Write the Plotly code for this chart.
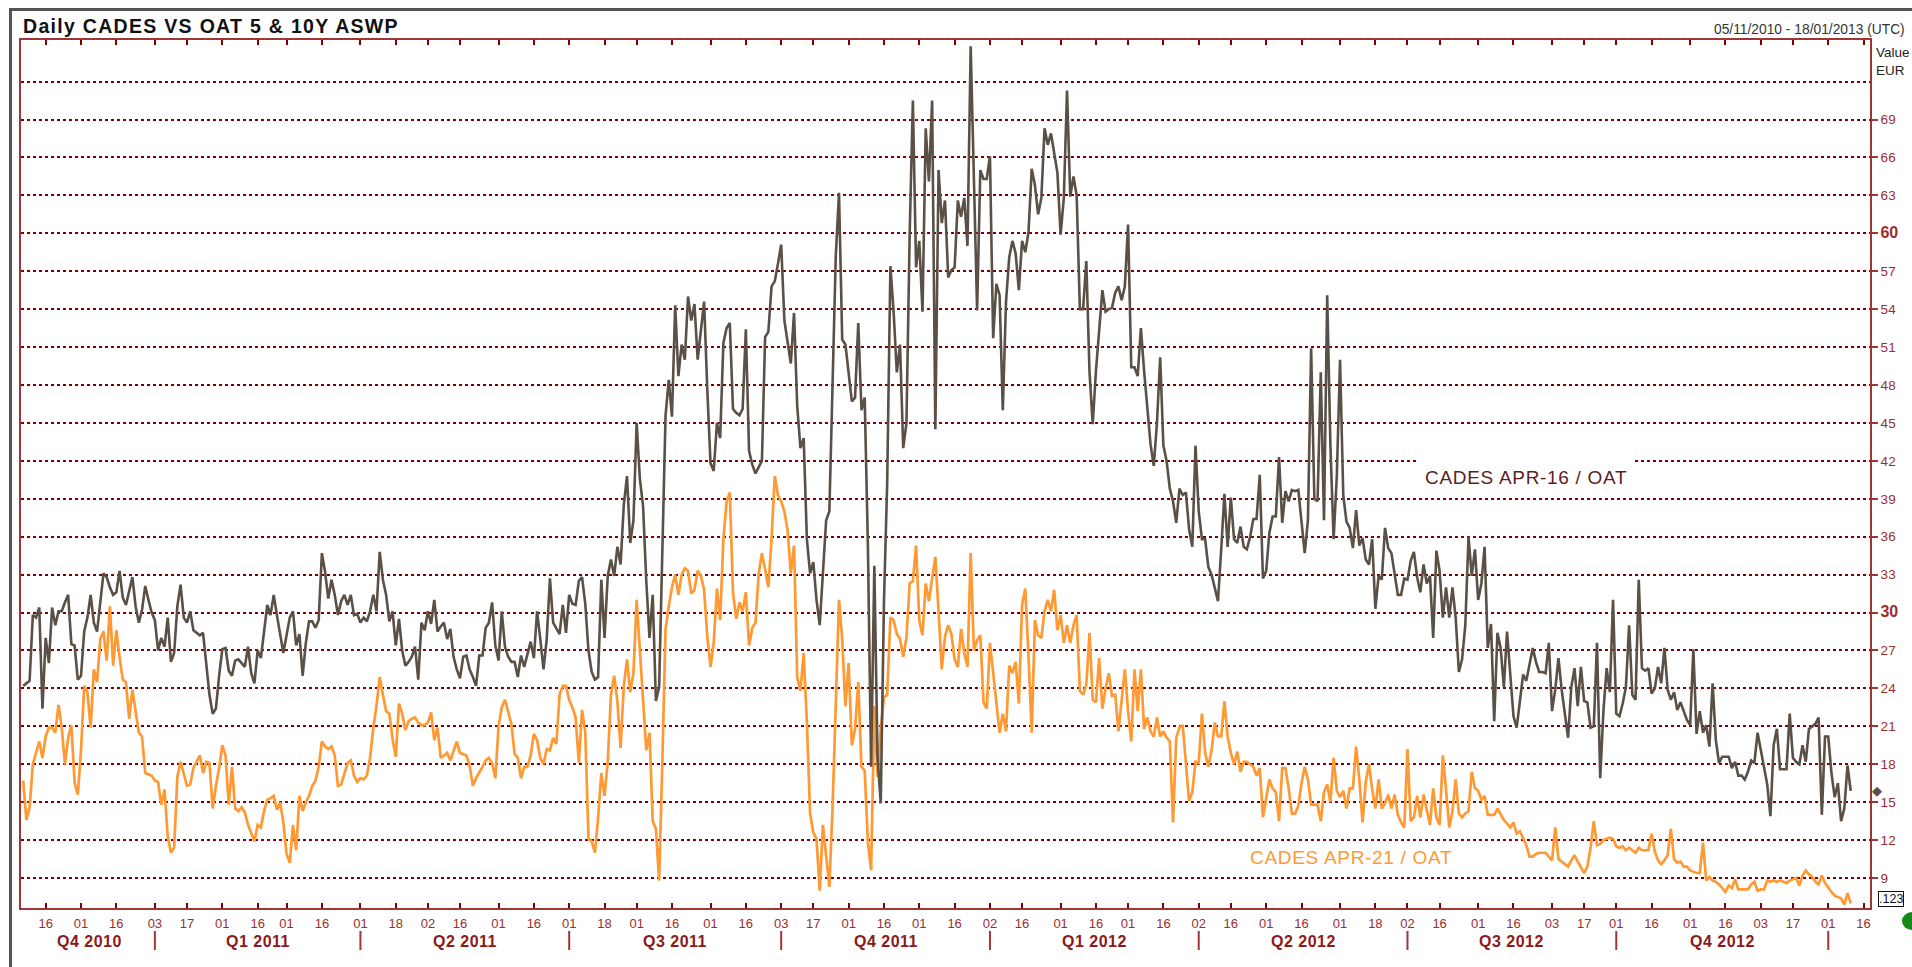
import numpy as np
import pandas as pd
import plotly.graph_objects as go

# ---------------- data ----------------
START_DATE = "2010-11-05"   # first business day shown
TITLE = "Daily CADES VS OAT 5 &amp; 10Y ASWP"
DATE_RANGE_TEXT = "05/11/2010 - 18/01/2013 (UTC)"
SERIES_NAMES = ["CADES APR-16 / OAT", "CADES APR-21 / OAT"]

# daily (business-day) asset-swap spreads, EUR, in bp
cades_apr16 = [
    24.2, 24.4, 24.6, 29.8, 29.6, 30.4, 22.4, 28.0, 26.0, 30.4,
    29.0, 30.1, 30.1, 30.8, 31.4, 27.5, 27.4, 24.7, 25.0, 28.5,
    29.6, 31.4, 29.2, 28.5, 30.7, 33.1, 32.8, 32.0, 31.4, 31.6,
    33.3, 31.2, 30.6, 31.7, 32.8, 30.5, 29.2, 30.2, 32.1, 31.0,
    30.0, 29.4, 27.0, 28.0, 27.3, 29.6, 26.1, 26.8, 30.5, 32.2,
    29.6, 29.2, 30.1, 28.6, 28.4, 28.2, 28.4, 26.0, 23.5, 22.0,
    22.4, 25.0, 27.1, 27.2, 25.4, 25.0, 26.2, 26.3, 26.0, 25.7,
    27.3, 25.2, 24.4, 27.0, 26.4, 28.3, 30.6, 29.8, 31.4, 29.8,
    28.2, 26.8, 28.2, 29.6, 30.1, 27.4, 28.3, 25.0, 27.6, 29.3,
    29.3, 28.8, 29.4, 34.7, 33.2, 31.1, 32.6, 31.4, 29.8, 30.9,
    31.4, 30.6, 31.4, 29.8, 29.9, 29.2, 29.6, 29.3, 30.1, 31.4,
    30.1, 34.8, 32.6, 31.4, 29.3, 30.1, 27.4, 29.5, 27.0, 25.8,
    26.1, 26.5, 27.3, 24.7, 29.2, 28.6, 30.1, 29.1, 31.0, 28.5,
    28.9, 29.2, 27.9, 28.7, 26.5, 25.5, 24.8, 26.5, 26.6, 25.5,
    24.9, 24.2, 26.6, 26.6, 28.8, 29.2, 30.8, 27.4, 26.2, 30.1,
    27.3, 26.5, 26.1, 26.1, 24.9, 26.6, 25.7, 26.6, 27.7, 26.4,
    30.1, 27.9, 25.5, 27.9, 32.7, 29.2, 28.8, 28.3, 30.6, 28.4,
    31.4, 30.7, 30.6, 32.5, 32.8, 30.7, 27.0, 25.3, 24.7, 24.9,
    32.6, 28.0, 32.9, 34.2, 32.9, 35.2, 33.8, 38.5, 40.8, 35.5,
    37.3, 45.0, 40.6, 38.4, 32.5, 28.0, 31.4, 23.0, 24.1, 35.1,
    45.6, 48.4, 45.5, 54.3, 48.7, 51.2, 50.0, 55.0, 53.1, 54.4,
    50.0, 52.3, 54.6, 47.6, 41.8, 41.2, 45.0, 43.8, 51.3, 52.5,
    52.9, 46.1, 45.8, 45.6, 46.1, 52.4, 42.8, 41.7, 41.0, 41.5,
    42.0, 51.8, 52.2, 55.8, 56.2, 57.6, 59.1, 53.1, 51.2, 49.7,
    53.7, 46.3, 43.0, 43.8, 35.8, 33.1, 34.0, 31.0, 29.0, 33.1,
    37.3, 38.0, 48.1, 58.2, 63.2, 51.6, 51.2, 49.0, 46.7, 47.0,
    52.9, 46.0, 47.0, 35.3, 17.8, 33.7, 18.6, 14.9, 30.9, 40.2,
    57.4, 53.8, 49.0, 51.2, 43.0, 45.0, 59.9, 70.5, 57.3, 59.4,
    53.8, 68.3, 64.1, 70.5, 44.5, 65.0, 60.8, 62.6, 56.5, 57.1,
    57.3, 62.6, 61.3, 62.8, 59.0, 74.8, 63.9, 53.9, 65.0, 64.3,
    64.3, 66.1, 51.7, 56.0, 55.1, 46.0, 54.6, 58.1, 59.4, 58.4,
    55.5, 59.4, 58.5, 60.1, 65.1, 63.8, 61.5, 62.8, 68.3, 67.0,
    67.9, 66.5, 64.8, 59.9, 62.8, 71.3, 62.9, 64.5, 63.0, 54.0,
    54.0, 57.8, 49.0, 44.9, 49.1, 52.3, 55.5, 53.8, 54.0, 54.1,
    55.3, 55.8, 54.7, 55.8, 60.7, 49.4, 49.4, 48.7, 52.5, 49.1,
    46.0, 43.3, 41.6, 45.0, 50.2, 43.2, 42.0, 39.8, 38.8, 37.1,
    39.8, 39.3, 39.5, 36.6, 35.2, 43.2, 38.0, 35.8, 35.8, 33.6,
    33.0, 32.0, 30.9, 35.0, 39.4, 35.2, 39.1, 35.8, 35.5, 36.8,
    35.2, 35.0, 36.0, 37.4, 37.4, 40.9, 32.7, 33.3, 36.3, 37.6,
    37.6, 42.3, 37.1, 39.6, 38.8, 39.7, 39.6, 39.7, 37.1, 34.7,
    37.3, 50.9, 39.0, 38.8, 49.0, 37.3, 55.1, 43.2, 35.8, 40.8,
    50.0, 39.3, 37.2, 36.7, 35.1, 38.1, 35.3, 35.9, 34.2, 33.8,
    35.8, 30.3, 32.9, 32.6, 36.7, 35.1, 34.7, 33.0, 31.4, 31.4,
    32.7, 32.6, 34.1, 34.8, 32.8, 31.6, 33.8, 32.3, 32.9, 28.0,
    34.9, 33.3, 29.6, 32.0, 29.6, 32.0, 29.6, 25.3, 26.3, 29.0,
    36.0, 32.9, 35.0, 31.0, 32.3, 35.2, 27.2, 29.1, 21.4, 28.4,
    27.2, 24.1, 28.5, 25.1, 21.8, 20.9, 22.8, 25.1, 24.6, 25.9,
    27.2, 26.1, 25.3, 25.3, 25.2, 27.6, 22.2, 23.9, 26.4, 23.9,
    21.8, 20.1, 24.1, 25.6, 22.6, 25.7, 23.0, 22.9, 20.9, 21.0,
    27.6, 16.9, 22.2, 25.6, 23.7, 31.0, 22.0, 21.8, 22.8, 24.1,
    29.0, 23.5, 23.1, 32.6, 25.6, 25.4, 25.6, 23.6, 24.0, 25.7,
    24.4, 27.2, 23.9, 23.1, 23.7, 22.3, 22.9, 22.2, 21.5, 21.1,
    27.1, 20.4, 22.2, 20.5, 21.1, 19.4, 24.4, 19.9, 18.1, 18.6,
    18.6, 18.6, 17.7, 18.2, 17.1, 17.1, 16.8, 17.4, 18.3, 18.1,
    20.5, 19.1, 17.9, 16.4, 13.9, 19.5, 20.8, 17.6, 17.6, 17.6,
    22.0, 18.5, 18.2, 18.0, 19.5, 18.2, 20.8, 21.0, 21.2, 21.7,
    14.0, 20.2, 20.2, 17.3, 15.4, 16.5, 13.5, 14.5, 17.9, 15.9,
]

cades_apr21 = [
    16.7, 13.6, 14.6, 18.0, 18.9, 19.8, 18.5, 20.2, 20.9, 20.9,
    20.5, 22.7, 20.9, 18.0, 20.1, 21.1, 16.6, 15.6, 19.1, 24.2,
    23.7, 20.9, 25.5, 24.5, 27.9, 28.5, 26.2, 30.5, 25.8, 28.6,
    26.5, 24.7, 24.5, 21.6, 23.9, 22.2, 20.5, 20.2, 17.3, 17.2,
    17.1, 16.7, 16.6, 14.8, 16.0, 12.3, 11.0, 11.4, 17.0, 18.2,
    17.2, 16.3, 16.4, 17.7, 18.2, 18.7, 17.3, 18.2, 18.1, 14.5,
    16.3, 17.7, 19.5, 18.7, 14.8, 17.8, 14.5, 14.3, 14.6, 14.2,
    13.2, 12.5, 11.9, 13.2, 13.0, 14.3, 15.2, 15.3, 15.5, 14.4,
    15.0, 13.4, 10.9, 10.2, 13.2, 11.2, 15.5, 14.3, 15.0, 15.5,
    16.3, 16.7, 17.8, 19.8, 19.4, 19.2, 19.4, 18.7, 16.3, 16.4,
    17.3, 18.1, 18.3, 17.1, 16.6, 16.9, 16.8, 17.1, 18.5, 20.9,
    22.6, 24.9, 23.5, 22.2, 22.0, 20.0, 18.6, 22.8, 22.0, 20.7,
    21.4, 21.6, 21.7, 21.3, 21.1, 21.1, 21.3, 22.1, 19.9, 20.9,
    18.5, 18.7, 18.9, 18.3, 19.0, 19.8, 18.9, 18.8, 18.7, 17.9,
    16.3, 16.9, 17.3, 17.8, 18.3, 18.5, 18.1, 16.9, 21.0, 22.5,
    23.1, 22.2, 21.2, 18.8, 18.5, 16.9, 17.8, 17.8, 18.7, 20.4,
    19.9, 18.5, 18.0, 19.2, 19.1, 20.1, 19.6, 23.5, 24.2, 24.2,
    23.1, 22.5, 21.7, 18.1, 22.3, 20.5, 12.1, 11.9, 11.0, 13.8,
    17.3, 15.5, 18.2, 23.5, 25.0, 23.0, 19.3, 24.2, 26.3, 23.7,
    25.2, 31.0, 27.0, 23.3, 19.1, 20.5, 13.5, 12.9, 8.8, 18.2,
    28.7, 30.5, 32.0, 33.0, 31.4, 33.0, 33.5, 33.3, 31.5, 31.8,
    33.3, 32.9, 31.8, 28.1, 25.7, 27.6, 31.9, 29.4, 35.8, 38.8,
    39.5, 31.6, 29.5, 30.8, 30.1, 31.6, 27.4, 28.8, 29.2, 33.1,
    34.7, 33.4, 32.0, 35.8, 40.8, 39.3, 38.8, 38.0, 36.5, 33.1,
    35.3, 24.9, 23.8, 26.8, 21.3, 14.1, 12.6, 12.1, 8.0, 13.2,
    10.5, 8.3, 14.6, 22.6, 31.0, 27.9, 22.6, 26.0, 19.5, 20.8,
    24.5, 17.8, 17.5, 11.8, 9.6, 22.6, 17.0, 20.8, 23.3, 23.5,
    29.6, 29.4, 28.3, 27.9, 26.5, 28.0, 32.3, 32.5, 35.3, 29.4,
    28.2, 32.3, 30.9, 32.7, 34.4, 30.1, 25.5, 28.1, 29.0, 28.3,
    26.3, 25.7, 28.7, 26.8, 25.7, 34.7, 27.0, 27.8, 28.2, 22.9,
    22.4, 27.6, 25.2, 23.0, 20.5, 22.0, 20.6, 25.8, 25.2, 26.1,
    22.8, 30.6, 31.9, 26.5, 20.5, 29.4, 28.2, 28.0, 30.1, 31.0,
    30.1, 31.8, 28.6, 29.8, 27.6, 29.0, 27.6, 29.0, 29.8, 23.8,
    23.5, 24.3, 28.4, 23.1, 22.9, 26.4, 22.4, 24.0, 25.2, 23.4,
    23.5, 20.6, 23.3, 25.5, 22.2, 19.8, 25.5, 22.2, 25.5, 20.8,
    21.7, 20.6, 20.2, 21.7, 20.2, 20.6, 20.1, 19.8, 13.4, 20.1,
    20.9, 21.1, 18.1, 15.1, 15.8, 18.2, 18.1, 22.0, 18.9, 17.8,
    19.1, 21.3, 20.2, 20.2, 23.0, 20.2, 18.9, 18.0, 19.0, 17.4,
    18.2, 18.2, 18.0, 17.8, 17.1, 17.7, 13.8, 15.5, 16.8, 16.1,
    15.8, 13.5, 17.7, 17.7, 16.1, 14.1, 14.1, 14.7, 16.5, 17.8,
    16.8, 14.8, 14.8, 14.8, 13.5, 15.8, 16.4, 15.0, 18.5, 15.9,
    15.4, 15.9, 14.5, 16.1, 16.1, 19.4, 16.8, 13.4, 16.6, 18.0,
    16.0, 14.5, 16.8, 14.5, 14.9, 15.6, 14.5, 15.6, 14.0, 13.4,
    13.0, 19.2, 13.5, 13.8, 15.5, 13.8, 15.6, 14.5, 13.2, 16.1,
    13.8, 13.2, 18.7, 16.0, 13.0, 14.3, 16.8, 14.1, 13.8, 14.1,
    14.3, 17.4, 16.1, 15.9, 15.2, 15.5, 14.0, 14.0, 14.0, 14.5,
    14.0, 13.6, 13.3, 13.0, 13.4, 12.5, 12.7, 12.1, 11.6, 10.7,
    10.7, 10.9, 11.0, 11.0, 11.0, 10.7, 10.4, 13.0, 10.5, 10.3,
    10.1, 9.9, 10.4, 10.8, 10.3, 9.8, 9.4, 9.9, 11.4, 13.5,
    11.6, 11.7, 12.0, 12.1, 12.2, 12.1, 11.5, 11.4, 11.5, 11.2,
    11.4, 11.2, 11.0, 11.4, 11.2, 11.2, 11.2, 12.5, 11.1, 10.4,
    10.1, 10.4, 10.8, 12.9, 10.5, 10.2, 10.3, 9.9, 9.9, 9.6,
    9.5, 9.4, 9.4, 11.8, 8.8, 9.1, 8.8, 8.7, 8.5, 8.2,
    7.9, 8.4, 8.2, 8.9, 8.1, 8.1, 8.1, 8.1, 8.5, 8.7,
    8.0, 8.1, 8.1, 8.8, 8.7, 8.8, 8.7, 8.8, 8.7, 8.6,
    8.8, 8.9, 9.0, 8.4, 9.2, 9.6, 9.3, 9.1, 8.7, 8.5,
    9.2, 8.6, 8.2, 7.9, 7.6, 7.5, 7.4, 6.9, 7.8, 7.0,
]

x_tick_dates = [
    "2010-11-16", "2010-12-01", "2010-12-16", "2011-01-03", "2011-01-17",
    "2011-02-01", "2011-02-16", "2011-03-01", "2011-03-16", "2011-04-01",
    "2011-04-18", "2011-05-02", "2011-05-16", "2011-06-01", "2011-06-16",
    "2011-07-01", "2011-07-18", "2011-08-01", "2011-08-16", "2011-09-01",
    "2011-09-16", "2011-10-03", "2011-10-17", "2011-11-01", "2011-11-16",
    "2011-12-01", "2011-12-16", "2012-01-02", "2012-01-16", "2012-02-01",
    "2012-02-16", "2012-03-01", "2012-03-16", "2012-04-02", "2012-04-16",
    "2012-05-01", "2012-05-16", "2012-06-01", "2012-06-18", "2012-07-02",
    "2012-07-16", "2012-08-01", "2012-08-16", "2012-09-03", "2012-09-17",
    "2012-10-01", "2012-10-16", "2012-11-01", "2012-11-16", "2012-12-03",
    "2012-12-17", "2013-01-01", "2013-01-16",
]
x_tick_text = [d[-2:] for d in x_tick_dates]

quarter_bounds = ["2010-11-05", "2011-01-03", "2011-04-01", "2011-07-01", "2011-10-03",
                  "2012-01-02", "2012-04-02", "2012-07-02", "2012-10-01", "2013-01-01"]
quarter_labels = ["Q4 2010", "Q1 2011", "Q2 2011", "Q3 2011", "Q4 2011",
                  "Q1 2012", "Q2 2012", "Q3 2012", "Q4 2012"]

y_tick_values = [9, 12, 15, 18, 21, 24, 27, 30, 33, 36, 39, 42, 45, 48, 51, 54, 57, 60, 63, 66, 69]
y_bold_values = [30, 60]
y_extra_grid = [72]

X_RANGE = ["2010-11-04 07:40", "2013-01-18 00:00"]
Y_RANGE = [6.63, 75.29]

# ---------------- styling ----------------
FONT = "Liberation Sans, Arial, Helvetica, sans-serif"
DARK = "#5b5045"
ORANGE = "#ff9933"
GRID = "#800000"
AXIS = "#a03535"
TICKTXT = "#9b2d2d"
QTXT = "#8b1a1a"

dates16 = pd.bdate_range(START_DATE, periods=len(cades_apr16))
dates21 = pd.bdate_range(START_DATE, periods=len(cades_apr21))

fig = go.Figure()
fig.add_trace(go.Scatter(x=dates21, y=cades_apr21, mode="lines", name=SERIES_NAMES[1],
                         line=dict(color=ORANGE, width=2.7)))
fig.add_trace(go.Scatter(x=dates16, y=cades_apr16, mode="lines", name=SERIES_NAMES[0],
                         line=dict(color=DARK, width=2.6)))

y_tick_text = []
for v in y_tick_values:
    if v in y_bold_values:
        y_tick_text.append(f"<span style='font-size:16px'><b>{v}</b></span>")
    else:
        y_tick_text.append(f"<span style='letter-spacing:0.4px'>{v}</span>")


def bday_mid(a, b):
    n = int(np.busday_count(a, b))
    half = n / 2.0
    fl = int(np.floor(half))
    base = pd.Timestamp(np.busday_offset(a, fl, roll="forward"))
    return (base + pd.Timedelta(days=half - fl)).isoformat()


annotations = []
# title
annotations.append(dict(
    text=f"<b><span style='letter-spacing:1.3px'>{TITLE}</span></b>", xref="paper", yref="paper",
    x=0, y=1, xanchor="left", yanchor="bottom", xshift=0, yshift=1, showarrow=False,
    font=dict(family=FONT, size=19.5, color="#111111")))
# date range
annotations.append(dict(
    text=DATE_RANGE_TEXT, xref="paper", yref="paper",
    x=(1712 - 21) / 1849, y=1, xanchor="left", yanchor="bottom", yshift=1, showarrow=False,
    font=dict(family=FONT, size=13.8, color="#333333")))
annotations.append(dict(
    text="Value", xref="paper", yref="paper",
    x=(1874 - 21) / 1849, y=(908 - 52) / 868, xanchor="left", yanchor="middle",
    showarrow=False, font=dict(family=FONT, size=13.5, color="#222222")))
annotations.append(dict(
    text="EUR", xref="paper", yref="paper",
    x=(1874 - 21) / 1849, y=(908 - 71) / 868, xanchor="left", yanchor="middle",
    showarrow=False, font=dict(family=FONT, size=13.5, color="#222222")))
# series labels
annotations.append(dict(
    text=f"<span style='letter-spacing:0.7px'>{SERIES_NAMES[0]}</span>", xref="paper", yref="paper",
    x=(1417 - 21) / 1849, y=(908 - 477.5) / 868, xanchor="left", yanchor="middle",
    showarrow=False, bgcolor="white", borderpad=7,
    font=dict(family=FONT, size=19, color="#5c1f1f")))
annotations.append(dict(
    text=f"<span style='letter-spacing:0.7px'>{SERIES_NAMES[1]}</span>", xref="paper", yref="paper",
    x=(1248 - 21) / 1849, y=(908 - 857) / 868, xanchor="left", yanchor="middle",
    showarrow=False, font=dict(family=FONT, size=19, color=ORANGE)))
# last-value marker
annotations.append(dict(
    text="\u25C6", xref="paper", yref="y", x=(1877 - 21) / 1849, y=cades_apr16[-1],
    xanchor="center", yanchor="middle", showarrow=False,
    font=dict(family="DejaVu Sans", size=13, color=DARK)))
annotations.append(dict(
    text=".123", xref="paper", yref="paper", x=(1878 - 21) / 1849, y=(908 - 899) / 868,
    xanchor="left", yanchor="middle", showarrow=False, bgcolor="white",
    bordercolor="#111111", borderwidth=1, borderpad=0,
    font=dict(family=FONT, size=12.5, color="#111111")))
# quarter labels
for i, lab in enumerate(quarter_labels):
    annotations.append(dict(
        text=f"<b><span style='letter-spacing:0.5px'>{lab}</span></b>", xref="x", yref="paper",
        x=bday_mid(quarter_bounds[i], quarter_bounds[i + 1]), y=0, yshift=-33,
        xanchor="center", yanchor="middle", showarrow=False,
        font=dict(family=FONT, size=16, color=QTXT)))

shapes = []
for qb in quarter_bounds[1:]:
    shapes.append(dict(type="line", xref="x", yref="paper", x0=qb, x1=qb,
                       y0=-(931 - 908) / 868, y1=-(950 - 908) / 868,
                       line=dict(color=AXIS, width=2)))
# outer frame (top and left edges)
shapes.append(dict(type="line", xref="paper", yref="paper",
                   x0=(9 - 21) / 1849, x1=1.05, y0=(908 - 9.5) / 868, y1=(908 - 9.5) / 868,
                   line=dict(color="#555555", width=3)))
shapes.append(dict(type="line", xref="paper", yref="paper",
                   x0=(10.5 - 21) / 1849, x1=(10.5 - 21) / 1849, y0=(908 - 8) / 868, y1=-0.1,
                   line=dict(color="#555555", width=3)))
# green status dot (bottom-right corner)
shapes.append(dict(type="circle", xref="paper", yref="paper",
                   x0=(1902 - 21) / 1849, x1=(1922 - 21) / 1849,
                   y0=(908 - 930) / 868, y1=(908 - 912) / 868,
                   fillcolor="#168a16", line=dict(color="#168a16", width=0)))

fig.update_layout(
    width=1912, height=967,
    margin=dict(l=21, r=42, t=40, b=59),
    paper_bgcolor="white", plot_bgcolor="white",
    showlegend=False,
    font=dict(family=FONT),
    annotations=annotations,
    shapes=shapes,
    xaxis=dict(
        type="date", range=X_RANGE,
        rangebreaks=[dict(bounds=["sat", "mon"])],
        tickmode="array", tickvals=x_tick_dates, ticktext=x_tick_text,
        ticks="inside", ticklen=5, tickwidth=2, tickcolor=GRID,
        showline=True, linecolor=AXIS, linewidth=1.5, mirror="ticks",
        showgrid=False, zeroline=False,
        tickfont=dict(family=FONT, size=13, color=TICKTXT),
        ticklabelstandoff=3,
    ),
    yaxis=dict(
        side="right", range=Y_RANGE,
        tickmode="array", tickvals=y_tick_values, ticktext=y_tick_text,
        ticks="outside", ticklen=6, tickwidth=1.5, tickcolor=AXIS,
        showline=True, linecolor=AXIS, linewidth=1.5, mirror=True,
        showgrid=True, gridcolor=GRID, gridwidth=2, griddash="3px,3px",
        minor=dict(tickvals=y_extra_grid, showgrid=True, gridcolor=GRID,
                   gridwidth=2, griddash="3px,3px", ticks=""),
        zeroline=False,
        tickfont=dict(family=FONT, size=13.5, color=TICKTXT),
    ),
)

fig.write_html(
    "out.html",
    config={"displayModeBar": False},
    post_script="document.body.style.margin='0px';document.documentElement.style.overflow='hidden';",
)
